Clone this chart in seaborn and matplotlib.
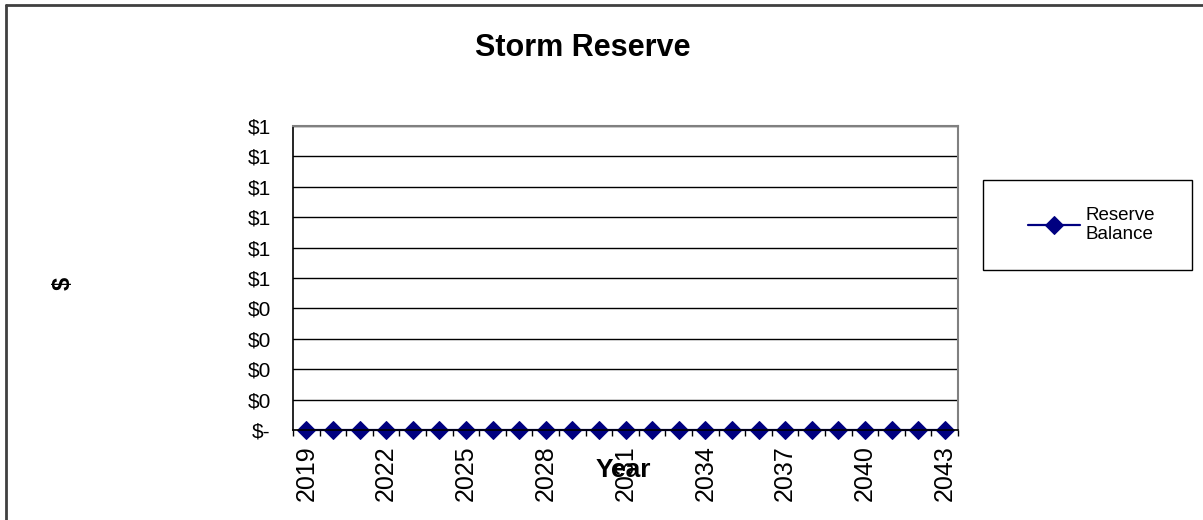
import numpy as np
import pandas as pd
import matplotlib
matplotlib.use("Agg")
import matplotlib.pyplot as plt
from matplotlib.lines import Line2D
from matplotlib.patches import Rectangle
from matplotlib.ticker import FixedLocator, FuncFormatter
import seaborn as sns

# data
years = list(range(2019, 2044))
reserve_balance = [0] * len(years)
year_labels = list(range(2019, 2044, 3))
y_ticks = [0, 0.1, 0.2, 0.3, 0.4, 0.5, 0.6, 0.7, 0.8, 0.9, 1.0]

df = pd.DataFrame({"Year": years, "Reserve Balance": reserve_balance})

sns.set_style("white")
plt.rcParams["font.family"] = ["Liberation Sans", "DejaVu Sans"]
plt.rcParams["text.color"] = "black"
plt.rcParams["xtick.color"] = "black"
plt.rcParams["ytick.color"] = "black"

fig = plt.figure(figsize=(12.03, 5.20), dpi=100)
ax = fig.add_axes([293 / 1203, 1 - 430 / 520, 665 / 1203, 304 / 520])

sns.lineplot(data=df, x="Year", y="Reserve Balance", ax=ax, color="#000080",
             marker="D", markersize=9, markeredgecolor="#000080",
             linewidth=1.6, label="Reserve\nBalance", legend=False, zorder=5,
             clip_on=False)

# axes look (Excel style)
ax.set_xlim(2018.5, 2043.5)
ax.set_ylim(0, 1)
ax.set_yticks(y_ticks)


def money(v, pos):
    if abs(v) < 1e-9:
        return "$-"
    return "$%d" % int(np.floor(v + 0.5 + 1e-9))


ax.yaxis.set_major_formatter(FuncFormatter(money))
ax.grid(axis="y", color="black", linewidth=1)
ax.set_axisbelow(True)
ax.tick_params(axis="y", direction="out", length=5, width=1, color="black",
               labelcolor="black", labelsize=15, pad=11)

ax.set_xticks(year_labels)
ax.set_xticklabels([str(y) for y in year_labels], rotation=90)
ax.xaxis.set_minor_locator(FixedLocator(np.arange(2018.5, 2044, 1)))
ax.tick_params(axis="x", which="major", length=0, labelsize=18,
               labelcolor="black", pad=11)
ax.tick_params(axis="x", which="minor", direction="out", length=4, width=1,
               color="black", bottom=True)
for lbl in ax.get_xticklabels():
    lbl.set_va("top")

ax.set_xlabel("")
ax.set_ylabel("")
for side in ["left", "bottom"]:
    ax.spines[side].set_color("black")
    ax.spines[side].set_linewidth(1.2)
for side in ["top", "right"]:
    ax.spines[side].set_color("#808080")
    ax.spines[side].set_linewidth(1.5)
ax.spines["bottom"].set_zorder(6)

# titles and axis names
fig.text(583 / 1203, 1 - 48 / 520, "Storm Reserve", ha="center", va="center",
         fontsize=22, fontweight="bold", color="black")
fig.text(623 / 1203, 1 - 470 / 520, "Year", ha="center", va="center",
         fontsize=19, fontweight="bold", color="black", zorder=10)
fig.text(63 / 1203, 1 - 283 / 520, "$", ha="center", va="center",
         fontsize=17, fontweight="bold", rotation=90, color="black")

# legend with a square box
fig.add_artist(Rectangle((983 / 1203, 1 - 270 / 520), 209 / 1203, 90 / 520,
                         transform=fig.transFigure, fill=False,
                         edgecolor="black", linewidth=1))
handles, labels = ax.get_legend_handles_labels()
leg = fig.legend(handles, labels, loc="center left",
                 bbox_to_anchor=(1020 / 1203, 1 - 225 / 520), frameon=False,
                 fontsize=13.5, handlelength=2.8, handletextpad=0.3,
                 borderaxespad=0)
for t in leg.get_texts():
    t.set_color("black")

# outer chart border (only top and left visible)
fig.add_artist(Line2D([6 / 1203, 1], [1 - 5 / 520, 1 - 5 / 520],
                      transform=fig.transFigure, color="#404040", linewidth=2))
fig.add_artist(Line2D([6 / 1203, 6 / 1203], [0, 1 - 5 / 520],
                      transform=fig.transFigure, color="#404040", linewidth=2))

fig.savefig("out.png", dpi=100)
